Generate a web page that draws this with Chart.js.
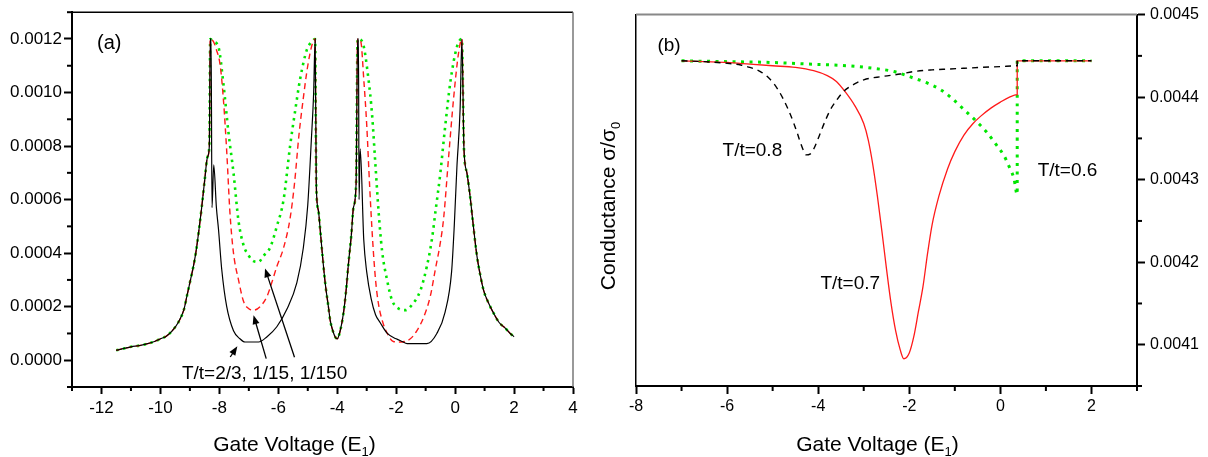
<!DOCTYPE html>
<html>
<head>
<meta charset="utf-8">
<script src="https://cdn.jsdelivr.net/npm/chart.js@4.4.0/dist/chart.umd.min.js"></script>
<style>
  body { margin: 0; background: #fff; }
  #wrap { position: relative; width: 1208px; height: 457px; overflow: hidden; }
  #wrap canvas { position: absolute; top: 0; }
</style>
</head>
<body>
<div id="wrap">
  <canvas id="chartA" width="590" height="457" style="left:0"></canvas>
  <canvas id="chartB" width="618" height="457" style="left:590px"></canvas>
</div>
<script>
// ---------- panel (a): three temperatures, pieces shared by all curves ----------
const aLeftTailV = [-11.5, -11.2, -11.0, -10.7, -10.5, -10.2, -10.0, -9.8, -9.6, -9.4, -9.2, -9.1, -9.0, -8.9, -8.8, -8.7, -8.6, -8.5, -8.4, -8.34, -8.31];
const aLeftTailG = [0.000037, 0.000045, 0.00005, 0.000055, 0.00006, 0.00007, 0.00008, 0.00009, 0.00011, 0.00014, 0.00019, 0.00024, 0.00029, 0.00034, 0.0004, 0.00048, 0.00057, 0.00067, 0.00076, 0.0008, 0.0012];
const aMidV = [-4.75, -4.71, -4.64, -4.58, -4.5, -4.41, -4.3, -4.24, -4.15, -4.07, -4.0, -3.9, -3.79, -3.7, -3.62, -3.52, -3.45, -3.36, -3.31];
const aMidG = [0.0012, 0.00065, 0.00056, 0.00049, 0.00039, 0.00029, 0.0002, 0.00015, 0.00011, 0.000087, 0.00008, 0.00011, 0.000175, 0.00026, 0.00036, 0.00047, 0.00057, 0.00066, 0.0012];
const aRightTailV = [0.23, 0.30, 0.4, 0.51, 0.62, 0.74, 0.85, 0.97, 1.15, 1.31, 1.5, 1.7, 1.87, 2.0];
const aRightTailG = [0.0012, 0.00079, 0.0007, 0.00061, 0.0005, 0.00039, 0.00032, 0.00026, 0.00021, 0.000175, 0.00014, 0.00012, 0.0001, 0.000088];

// valleys, T/t = 2/3 (black)
const aBlack1V = [-8.28, -8.25, -8.19, -8.1, -8.03, -7.92, -7.75, -7.52, -7.30, -7.13, -6.67, -6.39, -6.05, -5.71, -5.37, -5.15, -5.0, -4.88, -4.8];
const aBlack1G = [0.0012, 0.00057, 0.00073, 0.00057, 0.00049, 0.00034, 0.0002, 0.00011, 0.00008, 0.000068, 0.000068, 0.000087, 0.000125, 0.00019, 0.00029, 0.00042, 0.00058, 0.00082, 0.001];
const aBlack2V = [-3.28, -3.26, -3.22, -3.1, -3.0, -2.85, -2.7, -2.54, -2.3, -2.0, -1.8, -1.63, -0.96, -0.62, -0.34, -0.12, -0.03, 0.06, 0.17];
const aBlack2G = [0.0012, 0.0006, 0.00079, 0.00045, 0.00033, 0.00023, 0.00017, 0.00014, 0.0001, 0.00008, 0.00007, 0.000062, 0.000062, 0.0001, 0.00018, 0.00033, 0.0005, 0.00072, 0.00094];
// valleys, T/t = 1/15 (red)
const aRed1V = [-8.2, -8.1, -7.97, -7.86, -7.75, -7.64, -7.52, -7.35, -7.18, -7.01, -6.84, -6.62, -6.39, -6.22, -6.05, -5.82, -5.6, -5.45, -5.3, -5.15, -5.0, -4.85];
const aRed1G = [0.00119, 0.00116, 0.0011, 0.00097, 0.00078, 0.00055, 0.0004, 0.0003, 0.00022, 0.000193, 0.000187, 0.0002, 0.000237, 0.00029, 0.00035, 0.00042, 0.00053, 0.00066, 0.00084, 0.00098, 0.0011, 0.00118];
const aRed2V = [-3.2, -3.1, -3.0, -2.9, -2.8, -2.7, -2.6, -2.45, -2.3, -2.1, -1.86, -1.52, -1.3, -1.07, -0.84, -0.67, -0.5, -0.39, -0.22, -0.05, 0.12];
const aRed2G = [0.00119, 0.00105, 0.00088, 0.00065, 0.00045, 0.0003, 0.00021, 0.00014, 0.0001, 0.00007, 0.000068, 0.00008, 0.00011, 0.00016, 0.00024, 0.00034, 0.00044, 0.00053, 0.00076, 0.00098, 0.00115];
// valleys, T/t = 1/150 (green)
const aGreen1V = [-8.2, -8.03, -7.86, -7.69, -7.52, -7.35, -7.18, -7.0, -6.84, -6.67, -6.5, -6.28, -6.05, -5.82, -5.6, -5.43, -5.26, -5.03, -4.86];
const aGreen1G = [0.00119, 0.00117, 0.00103, 0.00085, 0.0007, 0.00052, 0.00043, 0.00039, 0.00037, 0.000367, 0.00039, 0.00042, 0.0005, 0.0006, 0.0008, 0.00093, 0.00105, 0.00116, 0.00119];
const aGreen2V = [-3.15, -2.94, -2.82, -2.71, -2.6, -2.48, -2.31, -2.14, -1.92, -1.69, -1.47, -1.18, -0.96, -0.79, -0.65, -0.5, -0.35, -0.16, 0.06];
const aGreen2G = [0.00119, 0.00105, 0.00092, 0.00074, 0.00056, 0.00041, 0.0003, 0.000224, 0.000193, 0.000187, 0.000206, 0.00026, 0.00035, 0.00045, 0.00057, 0.0007, 0.00086, 0.00104, 0.00117];

const aXTicks = [-12, -10, -8, -6, -4, -2, 0, 2, 4];
const aXMinor = [-13, -11, -9, -7, -5, -3, -1, 1, 3];
const aYTicks = [0, 0.0002, 0.0004, 0.0006, 0.0008, 0.0010, 0.0012];
const aYMinor = [-0.0001, 0.0001, 0.0003, 0.0005, 0.0007, 0.0009, 0.0011, 0.0013];

// ---------- panel (b) ----------
const bBlackV = [-7.0, -6.5, -6.0, -5.7, -5.5, -5.27, -5.1, -4.98, -4.87, -4.76, -4.65, -4.54, -4.45, -4.39, -4.32, -4.26, -4.18, -4.10, -4.02, -3.95, -3.84, -3.73, -3.6, -3.44, -3.2, -3.0, -2.6, -2.2, -1.9, -1.5, -1.16, -0.8, -0.43, 0.0, 0.37, 0.37, 1.0, 2.0];
const bBlackG = [0.004444, 0.004443, 0.004441, 0.004439, 0.004436, 0.004431, 0.004424, 0.004417, 0.004408, 0.004397, 0.004384, 0.004369, 0.004355, 0.004345, 0.004335, 0.00433, 0.004331, 0.004337, 0.004347, 0.004357, 0.004372, 0.004385, 0.004396, 0.004407, 0.004416, 0.004421, 0.004425, 0.004428, 0.004431, 0.004433, 0.004434, 0.004435, 0.004436, 0.004437, 0.004438, 0.004444, 0.004444, 0.004444];
const bRedV = [-7.0, -6.5, -6.0, -5.5, -5.0, -4.5, -4.1, -3.8, -3.6, -3.4, -3.2, -3.0, -2.9, -2.8, -2.7, -2.6, -2.5, -2.4, -2.3, -2.2, -2.12, -2.0, -1.9, -1.8, -1.7, -1.6, -1.5, -1.35, -1.16, -1.0, -0.8, -0.6, -0.43, -0.2, 0.0, 0.2, 0.37, 0.37, 1.0, 2.0];
const bRedG = [0.004444, 0.004443, 0.004442, 0.00444, 0.004438, 0.004436, 0.004432, 0.004426, 0.004419, 0.004406, 0.00439, 0.004368, 0.004348, 0.004318, 0.00428, 0.004237, 0.004192, 0.00415, 0.004117, 0.004094, 0.004083, 0.00409, 0.00411, 0.00414, 0.00417, 0.00421, 0.004245, 0.00428, 0.004313, 0.004334, 0.004354, 0.004368, 0.004377, 0.004387, 0.004394, 0.0044, 0.004403, 0.004444, 0.004444, 0.004444];
const bGreenV = [-7.0, -6.0, -5.0, -4.2, -3.36, -2.8, -2.34, -1.9, -1.6, -1.31, -1.05, -0.8, -0.55, -0.29, -0.1, 0.08, 0.2, 0.30, 0.37, 0.37, 1.0, 2.0];
const bGreenG = [0.004444, 0.004443, 0.004442, 0.00444, 0.004438, 0.004435, 0.004431, 0.004423, 0.004417, 0.004409, 0.004398, 0.004385, 0.004372, 0.004357, 0.004343, 0.004329, 0.004315, 0.004301, 0.004282, 0.004444, 0.004444, 0.004444];

const bXTicks = [-8, -6, -4, -2, 0, 2];
const bXMinor = [-7, -5, -3, -1, 1, 3];
const bYTicks = [0.0041, 0.0042, 0.0043, 0.0044, 0.0045];
const bYMinor = [0.00405, 0.00415, 0.00425, 0.00435, 0.00445];

const FONT = '"Liberation Sans", Arial, Helvetica, sans-serif';
const GREEN = "#00e600";

function pts(xs, ys) {
  return xs.map((x, i) => ({ x: x, y: ys[i] }));
}
function join(...pieces) {
  return [].concat(...pieces);
}

// text with alternating normal / subscript parts
function richText(ctx, parts, size, x, y, align) {
  const sub = Math.round(size * 0.6);
  const widths = parts.map((p, i) => {
    ctx.font = (i % 2 ? sub : size) + "px " + FONT;
    return ctx.measureText(p).width;
  });
  const total = widths.reduce((a, b) => a + b, 0);
  let cx = align === "center" ? x - total / 2 : x;
  ctx.textAlign = "left";
  ctx.textBaseline = "alphabetic";
  parts.forEach((p, i) => {
    ctx.font = (i % 2 ? sub : size) + "px " + FONT;
    ctx.fillText(p, cx, i % 2 ? y + size * 0.25 : y);
    cx += widths[i];
  });
}

function minorTicks(list) {
  return {
    id: "minorTicks",
    afterDraw(chart) {
      const ctx = chart.ctx;
      ctx.save();
      ctx.strokeStyle = "#000";
      ctx.lineWidth = 2;
      list.forEach((m) => {
        const s = chart.scales[m.axis];
        m.values.forEach((v) => {
          const p = s.getPixelForValue(v);
          ctx.beginPath();
          if (s.isHorizontal()) {
            ctx.moveTo(p, s.top);
            ctx.lineTo(p, s.top + m.len);
          } else if (s.position === "left") {
            ctx.moveTo(s.right, p);
            ctx.lineTo(s.right - m.len, p);
          } else {
            ctx.moveTo(s.left, p);
            ctx.lineTo(s.left + m.len, p);
          }
          ctx.stroke();
        });
      });
      ctx.restore();
    },
  };
}

// frame lines, labels, arrows, axis titles
function decorations(cfg) {
  return {
    id: "decorations",
    beforeDatasetsDraw(chart) {
      const { ctx, chartArea: a } = chart;
      ctx.save();
      cfg.frame.forEach((f) => {
        ctx.strokeStyle = f.color;
        ctx.lineWidth = f.width;
        ctx.beginPath();
        if (f.side === "top") { ctx.moveTo(a.left, a.top); ctx.lineTo(a.right, a.top); }
        if (f.side === "right") { ctx.moveTo(a.right, a.top); ctx.lineTo(a.right, a.bottom); }
        ctx.stroke();
      });
      ctx.restore();
    },
    afterDraw(chart) {
      const ctx = chart.ctx;
      const sx = chart.scales.x;
      const sy = chart.scales.y;
      ctx.save();
      ctx.fillStyle = "#000";
      cfg.notes.forEach((n) => {
        ctx.font = n.size + "px " + FONT;
        ctx.textAlign = "left";
        ctx.textBaseline = "middle";
        ctx.fillText(n.text, sx.getPixelForValue(n.x), sy.getPixelForValue(n.y));
      });
      (cfg.arrows || []).forEach((ar) => {
        const x1 = sx.getPixelForValue(ar.from[0]), y1 = sy.getPixelForValue(ar.from[1]);
        const x2 = sx.getPixelForValue(ar.to[0]), y2 = sy.getPixelForValue(ar.to[1]);
        const ang = Math.atan2(y2 - y1, x2 - x1);
        ctx.strokeStyle = "#000";
        ctx.lineWidth = 1.3;
        ctx.beginPath();
        ctx.moveTo(x1, y1);
        ctx.lineTo(x2 - 6 * Math.cos(ang), y2 - 6 * Math.sin(ang));
        ctx.stroke();
        ctx.beginPath();
        ctx.moveTo(x2, y2);
        ctx.lineTo(x2 - 9 * Math.cos(ang) + 3.5 * Math.sin(ang), y2 - 9 * Math.sin(ang) - 3.5 * Math.cos(ang));
        ctx.lineTo(x2 - 9 * Math.cos(ang) - 3.5 * Math.sin(ang), y2 - 9 * Math.sin(ang) + 3.5 * Math.cos(ang));
        ctx.closePath();
        ctx.fill();
      });
      // x title
      richText(ctx, ["Gate Voltage (E", "1", ")"], 21, sx.getPixelForValue(cfg.xTitleAt), 451, "center");
      if (cfg.yTitle) {
        ctx.translate(cfg.yTitle.x, cfg.yTitle.y);
        ctx.rotate(-Math.PI / 2);
        richText(ctx, ["Conductance \u03c3/\u03c3", "0", ""], 21, 0, 0, "center");
      }
      ctx.restore();
    },
  };
}

function tickFont(size) {
  return { family: FONT, size: size };
}

// ---------- chart (a) ----------
const aBlack = pts(join(aLeftTailV, aBlack1V, aMidV, aBlack2V, aRightTailV), join(aLeftTailG, aBlack1G, aMidG, aBlack2G, aRightTailG));
const aRed = pts(join(aLeftTailV, aRed1V, aMidV, aRed2V, aRightTailV), join(aLeftTailG, aRed1G, aMidG, aRed2G, aRightTailG));
const aGreen = pts(join(aLeftTailV, aGreen1V, aMidV, aGreen2V, aRightTailV), join(aLeftTailG, aGreen1G, aMidG, aGreen2G, aRightTailG));

new Chart(document.getElementById("chartA"), {
  type: "line",
  data: {
    datasets: [
      { label: "T/t=2/3", data: aBlack, borderColor: "#000", borderWidth: 1.2 },
      { label: "T/t=1/15", data: aRed, borderColor: "#ff1a1a", borderWidth: 1.4, borderDash: [6, 4] },
      { label: "T/t=1/150", data: aGreen, borderColor: GREEN, borderWidth: 2.6, borderDash: [2.5, 4.5] },
    ],
  },
  options: {
    responsive: false,
    animation: false,
    layout: { padding: { left: 0, right: 17, top: 12, bottom: 0 } },
    elements: { point: { radius: 0 }, line: { cubicInterpolationMode: "monotone", borderCapStyle: "butt" } },
    plugins: { legend: { display: false }, tooltip: { enabled: false } },
    scales: {
      x: {
        type: "linear", min: -13, max: 4,
        afterBuildTicks: (s) => { s.ticks = aXTicks.map((v) => ({ value: v })); },
        afterFit: (s) => { s.height = 70; },
        grid: { drawOnChartArea: false, tickLength: 7, tickWidth: 2, tickColor: "#000" },
        border: { color: "#000", width: 2 },
        ticks: { color: "#000", font: tickFont(17), padding: 4, maxRotation: 0, callback: (v) => String(v) },
      },
      y: {
        type: "linear", min: -0.0001, max: 0.0013,
        afterBuildTicks: (s) => { s.ticks = aYTicks.map((v) => ({ value: v })); },
        afterFit: (s) => { s.width = 72; },
        grid: { drawOnChartArea: false, tickLength: 8, tickWidth: 2, tickColor: "#000" },
        border: { color: "#000", width: 2 },
        ticks: { color: "#000", font: tickFont(17), padding: 2, callback: (v) => v.toFixed(4) },
      },
    },
  },
  plugins: [
    minorTicks([
      { axis: "x", values: aXMinor, len: 4 },
      { axis: "y", values: aYMinor, len: 5 },
    ]),
    decorations({
      frame: [
        { side: "top", color: "#000", width: 1.5 },
        { side: "right", color: "#777", width: 1.5 },
      ],
      notes: [
        { text: "(a)", x: -12.15, y: 0.001185, size: 20 },
        { text: "T/t=2/3, 1/15, 1/150", x: -9.27, y: -0.000049, size: 19 },
      ],
      arrows: [
        { from: [-7.63, 0.000012], to: [-7.39, 0.000052] },
        { from: [-6.41, 0.000006], to: [-6.84, 0.000168] },
        { from: [-5.45, 0.000011], to: [-6.45, 0.000343] },
      ],
      xTitleAt: -5.45,
    }),
  ],
});

// ---------- chart (b) ----------
new Chart(document.getElementById("chartB"), {
  type: "line",
  data: {
    datasets: [
      { label: "T/t=0.8", data: pts(bBlackV, bBlackG), yAxisID: "y", borderColor: "#000", borderWidth: 1.4, borderDash: [6, 5] },
      { label: "T/t=0.7", data: pts(bRedV, bRedG), yAxisID: "y", borderColor: "#ff1a1a", borderWidth: 1.3 },
      { label: "T/t=0.6", data: pts(bGreenV, bGreenG), yAxisID: "y", borderColor: GREEN, borderWidth: 3, borderDash: [3, 5.5] },
    ],
  },
  options: {
    responsive: false,
    animation: false,
    layout: { padding: { left: 0, right: 0, top: 11, bottom: 0 } },
    elements: { point: { radius: 0 }, line: { cubicInterpolationMode: "monotone", borderCapStyle: "butt" } },
    plugins: { legend: { display: false }, tooltip: { enabled: false } },
    scales: {
      x: {
        type: "linear", min: -8, max: 3,
        afterBuildTicks: (s) => { s.ticks = bXTicks.map((v) => ({ value: v })); },
        afterFit: (s) => { s.height = 71; },
        grid: { drawOnChartArea: false, tickLength: 8, tickWidth: 2, tickColor: "#000" },
        border: { color: "#000", width: 2 },
        ticks: { color: "#000", font: tickFont(16), padding: 3, maxRotation: 0, callback: (v) => String(v) },
      },
      yLeft: {
        type: "linear", position: "left", min: 0, max: 1,
        afterFit: (s) => { s.width = 46; },
        grid: { display: false, drawTicks: false },
        border: { color: "#000", width: 1.5 },
        ticks: { display: false },
      },
      y: {
        type: "linear", position: "right", min: 0.00405, max: 0.0045,
        afterBuildTicks: (s) => { s.ticks = bYTicks.map((v) => ({ value: v })); },
        afterFit: (s) => { s.width = 71; },
        grid: { drawOnChartArea: false, tickLength: 8, tickWidth: 2, tickColor: "#000" },
        border: { color: "#000", width: 2 },
        ticks: { color: "#000", font: tickFont(16), padding: 5, callback: (v) => v.toFixed(4) },
      },
    },
  },
  plugins: [
    minorTicks([
      { axis: "x", values: bXMinor, len: 5 },
      { axis: "y", values: bYMinor, len: 5 },
    ]),
    decorations({
      frame: [{ side: "top", color: "#888", width: 2 }],
      notes: [
        { text: "(b)", x: -7.53, y: 0.004462, size: 19 },
        { text: "T/t=0.8", x: -6.1, y: 0.004335, size: 19 },
        { text: "T/t=0.7", x: -3.95, y: 0.004174, size: 19 },
        { text: "T/t=0.6", x: 0.82, y: 0.004311, size: 19 },
      ],
      xTitleAt: -2.7,
      yTitle: { x: 25, y: 206 },
    }),
  ],
});
</script>
</body>
</html>
